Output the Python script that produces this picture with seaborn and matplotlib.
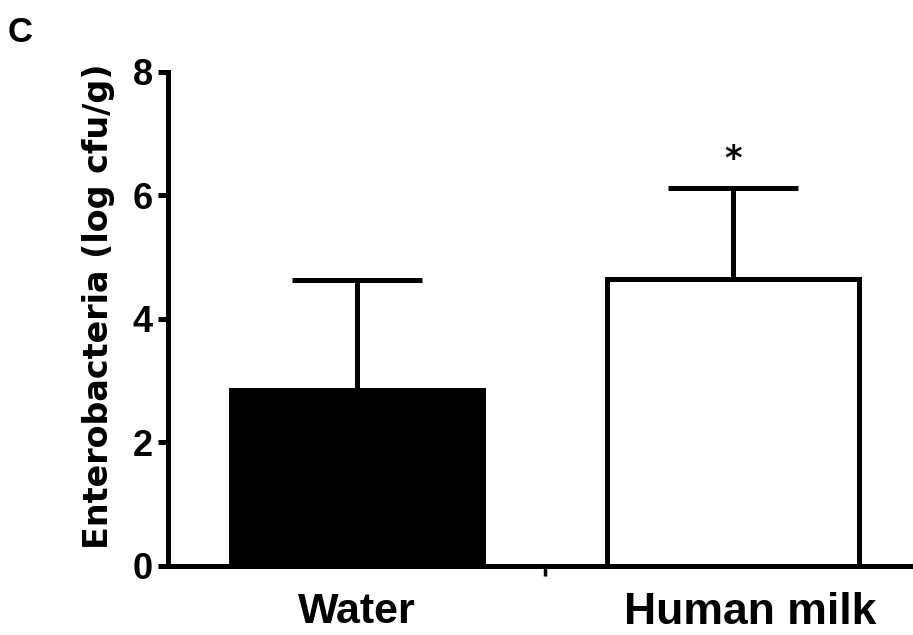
import matplotlib
matplotlib.use("Agg")
import matplotlib.pyplot as plt
import matplotlib.transforms as mtransforms
import seaborn as sns
import pandas as pd

categories = ["Water", "Human milk"]
means = [2.85, 4.64]
sem = [1.77, 1.48]
bar_colors = ["black", "white"]
yticks = [0, 2, 4, 6, 8]
ylabel = "Enterobacteria (log cfu/g)"
panel = "C"
sig = ["", "*"]

sns.set_theme(style="white")
plt.rcParams['font.family'] = ['Liberation Sans', 'DejaVu Sans']
for k in ["text.color", "axes.labelcolor", "xtick.color", "ytick.color"]:
    plt.rcParams[k] = "black"

fig = plt.figure(figsize=(9.13, 6.35), dpi=100)
ax = fig.add_axes([0.184, 0.109, 0.816, 0.778])

df = pd.DataFrame({"group": categories, "value": means})
sns.barplot(data=df, x="group", y="value", hue="group", palette=bar_colors,
            order=categories, hue_order=categories, legend=False,
            width=0.67, edgecolor="black", linewidth=3.6, errorbar=None, ax=ax,
            saturation=1)

for i, (m, e) in enumerate(zip(means, sem)):
    ax.errorbar(i, m, yerr=[[0], [e]], fmt="none", ecolor="black",
                elinewidth=3.6, capsize=46.8, capthick=3.6, zorder=1)
    if sig[i]:
        ax.text(i, m + e + 0.2, sig[i], ha="center", va="bottom",
                fontsize=24, fontweight="bold", family="DejaVu Sans")

ax.set_ylim(0, 8)
ax.set_xlim(-0.503, 1.48)
ax.set_yticks(yticks)
ax.set_yticklabels([str(t) for t in yticks], fontsize=26, fontweight="bold")
ax.tick_params(axis="y", direction="out", length=7, width=3.6, pad=4,
               left=True, color="black")

ax.set_xticks([0.5])
ax.set_xticklabels([""])
ax.tick_params(axis="x", which="major", direction="out", length=7,
               width=2.5, bottom=True, color="black")
ax.set_xticks([0, 1], minor=True)
ax.set_xticklabels(categories, minor=True)
ax.tick_params(axis="x", which="minor", length=0, pad=19)
mlabels = ax.get_xticklabels(minor=True)
mlabels[0].set_fontsize(31)
mlabels[0].set_fontweight("bold")
mlabels[1].set_fontsize(32)
mlabels[1].set_fontweight("bold")
mlabels[1].set_transform(mlabels[1].get_transform() +
                         mtransforms.ScaledTranslation(18/100, 0, fig.dpi_scale_trans))

ax.set_xlabel("")
ax.set_ylabel(ylabel, fontsize=24, fontweight="bold", family="DejaVu Sans")
ax.yaxis.set_label_coords(-0.071, 0.526)

for s in ["top", "right"]:
    ax.spines[s].set_visible(False)
for s in ["left", "bottom"]:
    ax.spines[s].set_linewidth(3.6)
    ax.spines[s].set_color("black")

fig.text(0.022, 0.934, panel, fontsize=25, fontweight="bold",
         va="baseline", ha="center")

fig.savefig("out.png", dpi=100)
